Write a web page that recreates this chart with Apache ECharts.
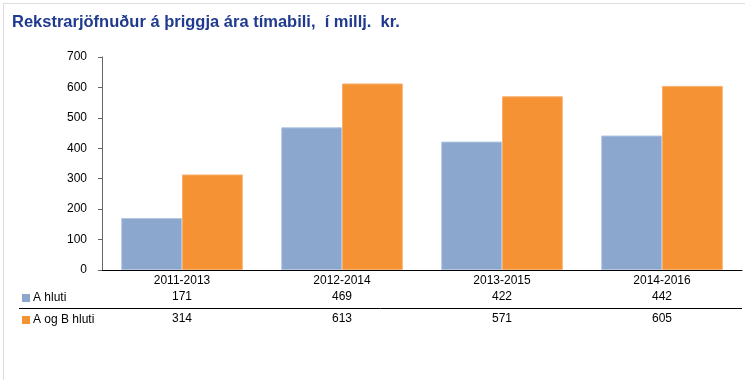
<!DOCTYPE html>
<html>
<head>
<meta charset="utf-8">
<script src="https://cdn.jsdelivr.net/npm/echarts@6/dist/echarts.min.js"></script>
<style>
html,body{margin:0;padding:0;background:#fff;}
#chart{width:745px;height:383px;}
</style>
</head>
<body>
<div id="chart"></div>
<script>
var categories = ['2011-2013', '2012-2014', '2013-2015', '2014-2016'];
var seriesNames = ['A hluti', 'A og B hluti'];
var aValues = [171, 469, 422, 442];
var abValues = [314, 613, 571, 605];
var yTicks = [0, 100, 200, 300, 400, 500, 600, 700];

var FONT = 'Liberation Sans, Arial, sans-serif';
var blue = '#8BA7CE';
var orange = '#F59233';

var chart = echarts.init(document.getElementById('chart'), null, {renderer: 'canvas'});

function rowAxis(values, offset) {
  return {
    type: 'category', data: categories, gridIndex: 0, position: 'bottom', offset: offset,
    axisLine: {show: false}, axisTick: {show: false}, splitLine: {show: false},
    axisLabel: {
      margin: 5, color: '#000', fontFamily: FONT, fontSize: 12,
      formatter: function (v) { return String(values[categories.indexOf(v)]); }
    }
  };
}

var option = {
  animation: false,
  backgroundColor: '#fff',
  title: {
    text: 'Rekstrarjöfnuður á þriggja ára tímabili,  í millj.  kr.',
    left: 12, top: 14, padding: 0,
    textStyle: {color: '#1F3A8F', fontFamily: FONT, fontSize: 16.5, fontWeight: 'bold'}
  },
  legend: {
    orient: 'vertical', left: 22, top: 292, padding: 0, itemWidth: 8, itemHeight: 8, itemGap: 10,
    icon: 'rect', data: seriesNames,
    itemStyle: {borderWidth: 0},
    textStyle: {color: '#000', fontFamily: FONT, fontSize: 12, padding: [0, 0, 0, -2]}
  },
  grid: {left: 102, top: 57, right: 3, bottom: 113, containLabel: false},
  xAxis: [
    {
      type: 'category', data: categories,
      axisLine: {lineStyle: {color: '#000', width: 1}},
      axisTick: {show: false},
      axisLabel: {margin: 5, color: '#000', fontFamily: FONT, fontSize: 12}
    },
    rowAxis(aValues, 16),
    rowAxis(abValues, 38)
  ],
  yAxis: {
    type: 'value', min: 0, max: 700, interval: 100,
    axisLine: {show: true, lineStyle: {color: '#666'}},
    axisTick: {show: true, length: 4, lineStyle: {color: '#666'}},
    splitLine: {show: false},
    axisLabel: {
      margin: 15, color: '#000', fontFamily: FONT, fontSize: 12,
      formatter: function (v) { return yTicks.indexOf(v) >= 0 ? String(v) : ''; }
    }
  },
  series: [
    {
      name: seriesNames[0], type: 'bar', data: aValues, xAxisIndex: 0,
      barGap: '0%', barCategoryGap: '24%',
      itemStyle: {color: blue, borderColor: '#B3C6E2', borderWidth: 1}
    },
    {
      name: seriesNames[1], type: 'bar', data: abValues, xAxisIndex: 0,
      barGap: '0%', barCategoryGap: '24%',
      itemStyle: {color: orange, borderColor: '#F8B070', borderWidth: 1}
    }
  ],
  graphic: [
    {type: 'line', shape: {x1: 3, y1: 3.5, x2: 745, y2: 3.5}, style: {stroke: '#DDDDDD', lineWidth: 1}},
    {type: 'line', shape: {x1: 3.5, y1: 3, x2: 3.5, y2: 380}, style: {stroke: '#DDDDDD', lineWidth: 1}},
    {type: 'line', shape: {x1: 19, y1: 308.5, x2: 742, y2: 308.5}, style: {stroke: '#000', lineWidth: 1}}
  ]
};
chart.setOption(option);
</script>
</body>
</html>
